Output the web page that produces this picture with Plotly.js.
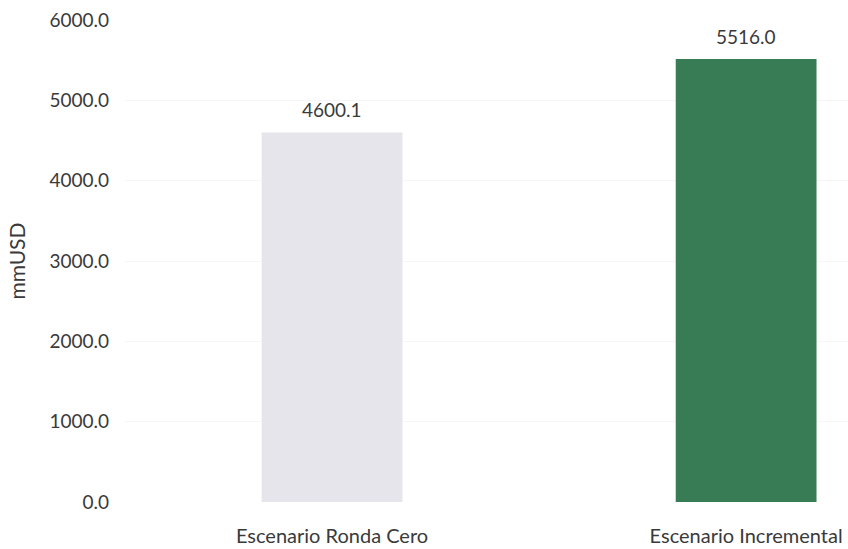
<!DOCTYPE html>
<html>
<head>
<meta charset="utf-8">
<script src="https://cdn.plot.ly/plotly-3.0.1.min.js"></script>
<style>html,body{margin:0;padding:0;background:#fff;}#chart{width:848px;height:549px;}</style>
</head>
<body>
<div id="chart"></div>
<script>
const categories = ["Escenario Ronda Cero", "Escenario Incremental"];
const values = [4600.1, 5516.0];
const barColors = ["#e5e5eb", "#387c56"];
const yTicks = [0, 1000, 2000, 3000, 4000, 5000, 6000];

const font = "Lato, 'Open Sans', sans-serif";
const textColor = "#3a3a3a";

const trace = {
  type: "bar",
  x: categories,
  y: values,
  marker: {color: barColors},
  width: 0.34,
  hoverinfo: "skip"
};

const annotations = categories.map((c, i) => ({
  x: c, y: values[i], xref: "x", yref: "y",
  text: values[i].toFixed(1),
  showarrow: false, yanchor: "bottom", yshift: 9,
  font: {family: font, size: 19, color: textColor}
}));

const layout = {
  width: 848, height: 549,
  margin: {l: 125, r: 0, t: 20, b: 47},
  paper_bgcolor: "#fff", plot_bgcolor: "#fff",
  showlegend: false,
  xaxis: {
    type: "category",
    range: [-0.5, 1.246],
    showgrid: false, zeroline: false, showline: false,
    ticks: "", ticklabelstandoff: 20,
    tickfont: {family: font, size: 20, color: textColor}
  },
  yaxis: {
    range: [0, 6000],
    tickvals: yTicks,
    ticktext: yTicks.map(v => v.toFixed(1)),
    showgrid: true, gridcolor: "#f6f6f6", gridwidth: 1,
    zeroline: false, showline: false, ticks: "",
    ticklabelstandoff: 15,
    tickfont: {family: font, size: 19, color: textColor},
    title: {text: "mmUSD", font: {family: font, size: 21, color: textColor}, standoff: 18}
  },
  annotations: annotations
};

Plotly.newPlot("chart", [trace], layout, {displayModeBar: false, staticPlot: true});
</script>
</body>
</html>
